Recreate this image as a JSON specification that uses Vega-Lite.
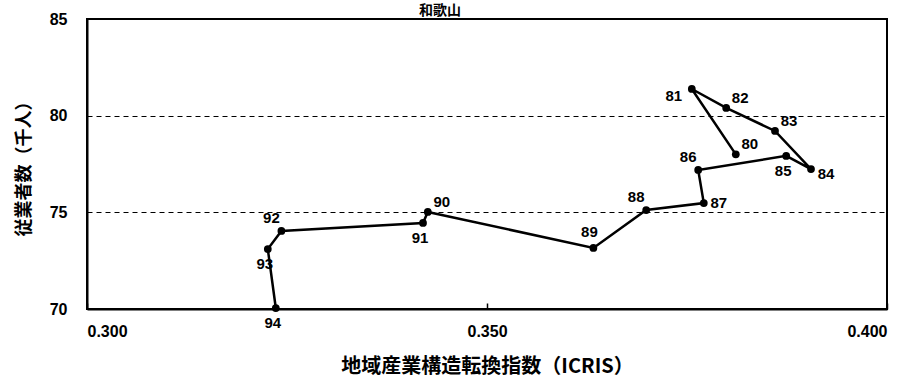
{
  "$schema": "https://vega.github.io/schema/vega-lite/v6.json",
  "autosize": "none",
  "width": 800,
  "height": 290,
  "padding": {"left": 87, "top": 19, "right": 20, "bottom": 70},
  "background": "white",
  "title": {"text": "和歌山", "font": "Noto Sans CJK JP", "fontSize": 14, "fontWeight": "bold", "color": "black", "offset": -7, "dx": -47, "anchor": "middle"},
  "config": {
    "view": {"stroke": "black", "strokeWidth": 2},
    "font": "Liberation Sans"
  },
  "data": {"values": [
    {"year": "80", "icris": 0.3811, "emp": 78.0, "side": "ne"},
    {"year": "81", "icris": 0.3756, "emp": 81.38, "side": "w"},
    {"year": "82", "icris": 0.3799, "emp": 80.40, "side": "ne"},
    {"year": "83", "icris": 0.3860, "emp": 79.21, "side": "ne"},
    {"year": "84", "icris": 0.3905, "emp": 77.24, "side": "se"},
    {"year": "85", "icris": 0.3874, "emp": 77.92, "side": "s"},
    {"year": "86", "icris": 0.3764, "emp": 77.19, "side": "nw"},
    {"year": "87", "icris": 0.3771, "emp": 75.48, "side": "e"},
    {"year": "88", "icris": 0.3699, "emp": 75.12, "side": "nw"},
    {"year": "89", "icris": 0.3633, "emp": 73.16, "side": "n"},
    {"year": "90", "icris": 0.3426, "emp": 75.02, "side": "ne"},
    {"year": "91", "icris": 0.3420, "emp": 74.45, "side": "s"},
    {"year": "92", "icris": 0.3243, "emp": 74.04, "side": "nw"},
    {"year": "93", "icris": 0.3226, "emp": 73.10, "side": "s"},
    {"year": "94", "icris": 0.3236, "emp": 70.05, "side": "s"}
  ]},
  "encoding": {
    "x": {"field": "icris", "type": "quantitative", "scale": {"domain": [0.3, 0.4], "nice": false, "zero": false},
      "axis": {"values": [0.3, 0.35, 0.4], "format": ".3f", "title": "地域産業構造転換指数（ICRIS）", "grid": false,
        "domainColor": "black", "domainWidth": 2, "tickColor": "black", "tickSize": -6, "tickWidth": 1.5,
        "labelFont": "Liberation Sans", "labelFontSize": 16, "labelFontWeight": "bold", "labelColor": "black", "labelPadding": 20,
        "titleFont": "Noto Sans CJK JP", "titleFontSize": 20, "titleFontWeight": "bold", "titleColor": "black", "titlePadding": 17}},
    "y": {"field": "emp", "type": "quantitative", "scale": {"domain": [70, 85], "nice": false, "zero": false},
      "axis": {"values": [70, 75, 80, 85], "title": "従業者数（千人）", "grid": true, "gridColor": "black", "gridDash": [5, 4], "gridWidth": 1, "gridOpacity": 1,
        "domainColor": "black", "domainWidth": 2, "ticks": false,
        "labelFont": "Liberation Sans", "labelFontSize": 16, "labelFontWeight": "bold", "labelColor": "black", "labelPadding": 20,
        "titleFont": "Noto Sans CJK JP", "titleFontSize": 18, "titleFontWeight": "bold", "titleColor": "black", "titlePadding": 16}}
  },
  "layer": [
    {"mark": {"type": "line", "color": "black", "strokeWidth": 2.5}, "encoding": {"order": {"field": "year", "type": "ordinal"}}},
    {"mark": {"type": "point", "filled": true, "color": "black", "opacity": 1, "size": 60}},
    {"transform": [{"filter": "datum.side == 'ne'"}], "mark": {"type": "text", "dx": 14, "dy": -10, "fontSize": 15, "fontWeight": "bold", "color": "black"}, "encoding": {"text": {"field": "year"}}},
    {"transform": [{"filter": "datum.side == 'w'"}], "mark": {"type": "text", "dx": -18, "dy": 7, "fontSize": 15, "fontWeight": "bold", "color": "black"}, "encoding": {"text": {"field": "year"}}},
    {"transform": [{"filter": "datum.side == 'se'"}], "mark": {"type": "text", "dx": 15, "dy": 5, "fontSize": 15, "fontWeight": "bold", "color": "black"}, "encoding": {"text": {"field": "year"}}},
    {"transform": [{"filter": "datum.side == 's'"}], "mark": {"type": "text", "dx": -3, "dy": 15, "fontSize": 15, "fontWeight": "bold", "color": "black"}, "encoding": {"text": {"field": "year"}}},
    {"transform": [{"filter": "datum.side == 'nw'"}], "mark": {"type": "text", "dx": -10, "dy": -13, "fontSize": 15, "fontWeight": "bold", "color": "black"}, "encoding": {"text": {"field": "year"}}},
    {"transform": [{"filter": "datum.side == 'n'"}], "mark": {"type": "text", "dx": -4, "dy": -16, "fontSize": 15, "fontWeight": "bold", "color": "black"}, "encoding": {"text": {"field": "year"}}},
    {"transform": [{"filter": "datum.side == 'e'"}], "mark": {"type": "text", "dx": 15, "dy": 0, "fontSize": 15, "fontWeight": "bold", "color": "black"}, "encoding": {"text": {"field": "year"}}}
  ]
}
